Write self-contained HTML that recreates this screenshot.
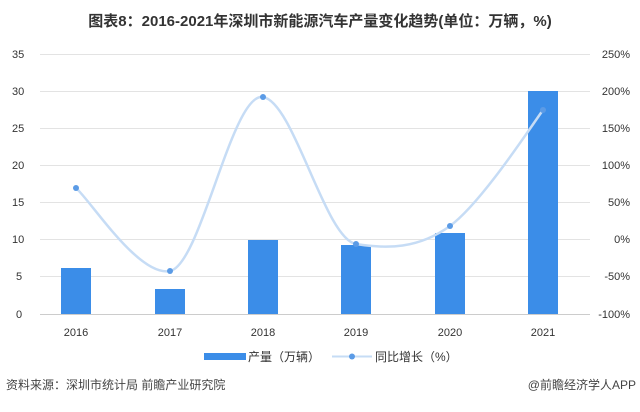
<!DOCTYPE html>
<html><head><meta charset="utf-8"><style>
body{margin:0;background:#fff;width:640px;height:407px;overflow:hidden;font-family:"Liberation Sans","Noto Sans CJK SC",sans-serif;}
</style></head><body>
<svg width="640" height="407" xmlns="http://www.w3.org/2000/svg" font-family="Liberation Sans, Noto Sans CJK SC, sans-serif">
<text x="320" y="26" text-anchor="middle" font-size="15" font-weight="bold" fill="#333">图表8：2016-2021年深圳市新能源汽车产量变化趋势(单位：万辆，%)</text>
<g stroke="#e3e3e3" stroke-width="1">
<line x1="40" x2="590" y1="54.5" y2="54.5"/><line x1="40" x2="590" y1="91.5" y2="91.5"/><line x1="40" x2="590" y1="128.5" y2="128.5"/><line x1="40" x2="590" y1="165.5" y2="165.5"/><line x1="40" x2="590" y1="202.5" y2="202.5"/><line x1="40" x2="590" y1="239.5" y2="239.5"/><line x1="40" x2="590" y1="276.5" y2="276.5"/><line x1="40" x2="590" y1="314.5" y2="314.5" stroke="#ccc"/>
</g>
<g font-size="11" fill="#333">
<text x="12" y="58">35</text><text x="12" y="95">30</text><text x="12" y="132">25</text><text x="12" y="169">20</text><text x="12" y="206">15</text><text x="12" y="243">10</text><text x="16" y="280">5</text><text x="16" y="318">0</text>
<g text-anchor="end"><text x="630" y="58">250%</text><text x="630" y="95">200%</text><text x="630" y="132">150%</text><text x="630" y="169">100%</text><text x="630" y="206">50%</text><text x="630" y="243">0%</text><text x="630" y="280">-50%</text><text x="630" y="318">-100%</text></g>
<g text-anchor="middle"><text x="76" y="336">2016</text><text x="170" y="336">2017</text><text x="263" y="336">2018</text><text x="356" y="336">2019</text><text x="450" y="336">2020</text><text x="543" y="336">2021</text></g>
</g>
<g fill="#3b8de8">
<rect x="61" y="268" width="30" height="46"/><rect x="155" y="289" width="30" height="25"/><rect x="248" y="240" width="30" height="74"/><rect x="341" y="245" width="30" height="69"/><rect x="435" y="233" width="30" height="81"/><rect x="528" y="91" width="30" height="223"/>
</g>
<path d="M76,188 C91.5,201.8 139,277 170,271 C201,265 232,92 263,97 C294,102 325,239 356,244 C387,249 418,249 450,226 C481,203 528,131 543,110" fill="none" stroke="#c6dcf5" stroke-width="2.5"/>
<g fill="#5b9be6"><circle cx="76" cy="188" r="3"/><circle cx="170" cy="271" r="3"/><circle cx="263" cy="97" r="3"/><circle cx="356" cy="244" r="3"/><circle cx="450" cy="226" r="3"/><circle cx="543" cy="110" r="3"/></g>
<rect x="204" y="353" width="42" height="7" fill="#3b8de8"/>
<text x="248" y="361" font-size="12" fill="#333">产量（万辆）</text>
<line x1="332" y1="356.5" x2="372" y2="356.5" stroke="#c6dcf5" stroke-width="2"/><circle cx="352" cy="356.5" r="3" fill="#5b9be6"/>
<text x="375" y="361" font-size="12" fill="#333">同比增长（%）</text>
<text x="6" y="389" font-size="12" fill="#444">资料来源：深圳市统计局 前瞻产业研究院</text>
<text x="636" y="389" font-size="12" fill="#444" text-anchor="end">@前瞻经济学人APP</text>
</svg>
</body></html>
